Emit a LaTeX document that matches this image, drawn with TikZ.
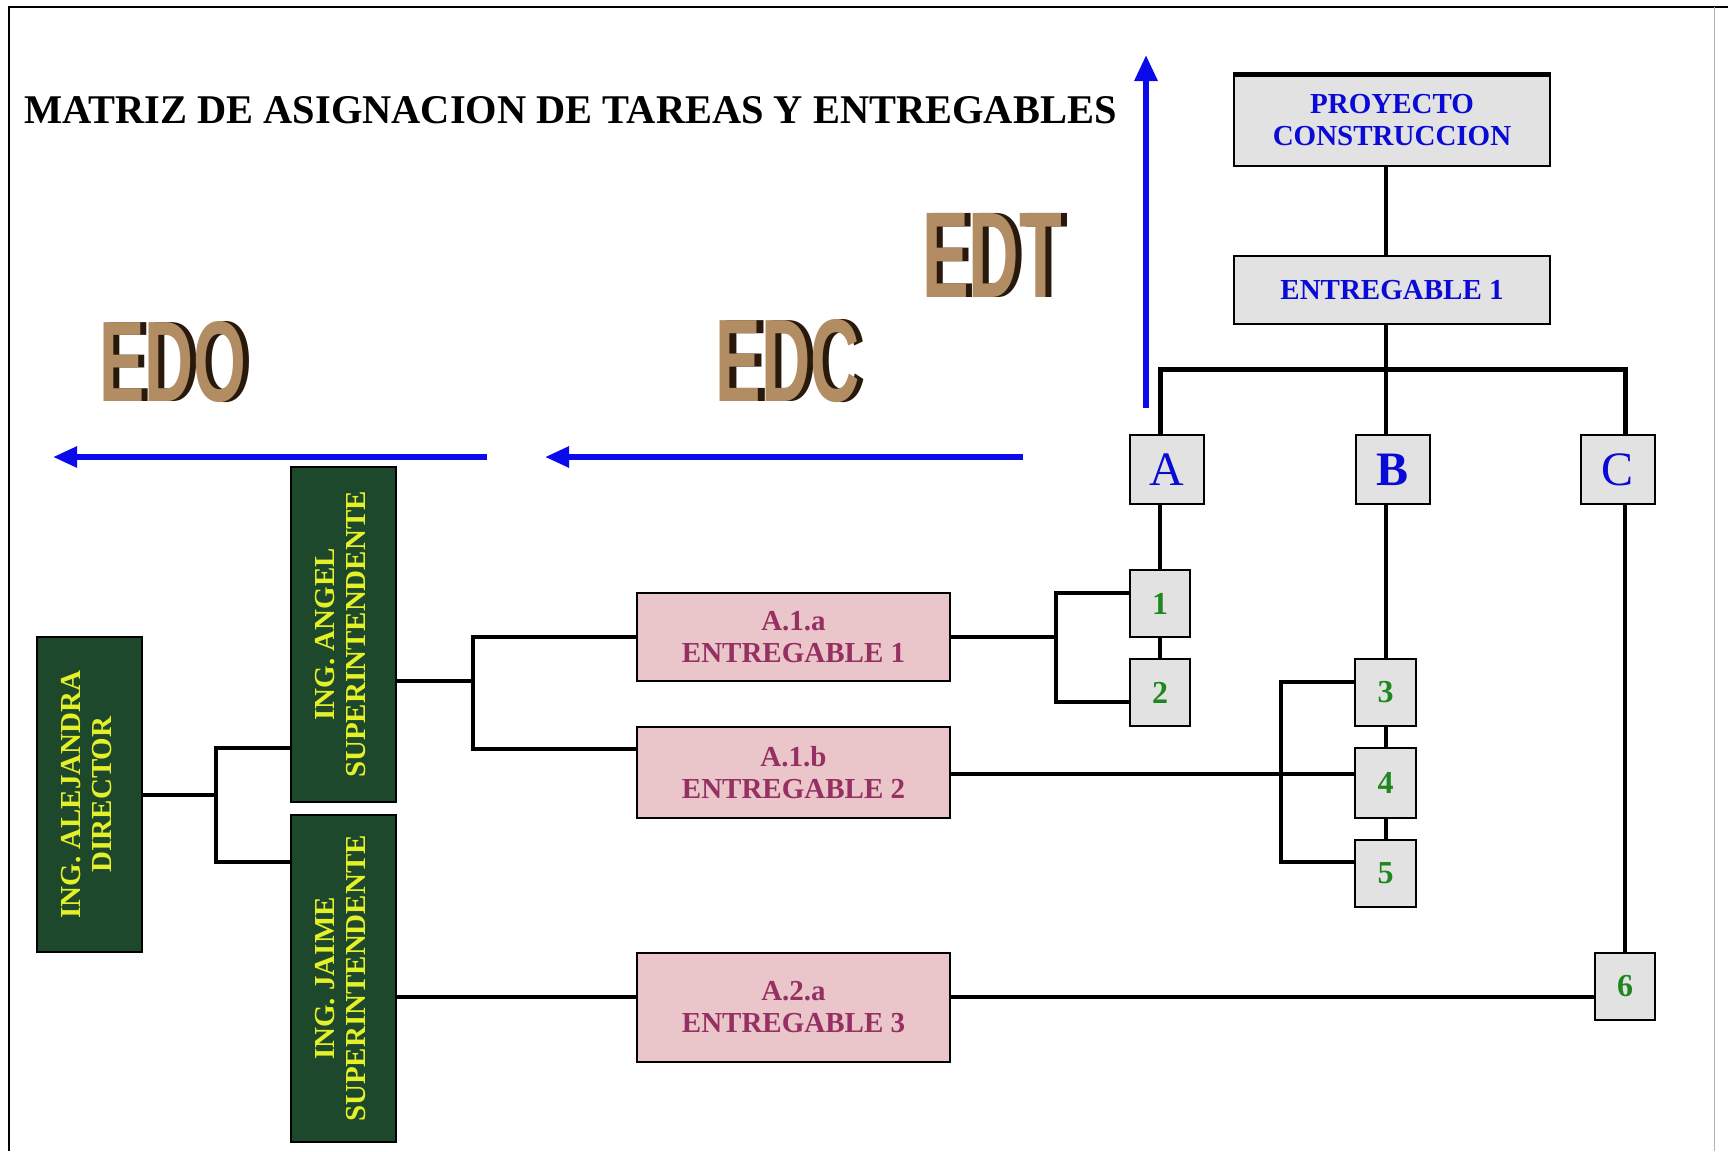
\documentclass[tikz,border=0pt]{standalone}
\usepackage{fontspec}
\usepackage{graphicx}
\setmainfont{Liberation Serif}
\newfontfamily\wafont{Liberation Sans}
\usetikzlibrary{arrows.meta}
\definecolor{marble}{RGB}{226,226,226}
\definecolor{txtblue}{RGB}{10,10,215}
\definecolor{numgreen}{RGB}{30,135,30}
\definecolor{dkgreen}{RGB}{30,72,44}
\definecolor{yeltxt}{RGB}{228,240,40}
\definecolor{pinkfill}{RGB}{234,198,202}
\definecolor{pinktxt}{RGB}{150,48,98}
\definecolor{arrblue}{RGB}{10,10,235}
\definecolor{wood}{RGB}{178,140,98}
\definecolor{woodshadow}{RGB}{40,25,12}
\newcommand\wart[3]{\makebox[0pt][l]{\hspace{6pt}\textcolor{woodshadow}{\resizebox{#2}{#3}{\wafont\bfseries #1}}}\textcolor{wood}{\resizebox{#2}{#3}{\wafont\bfseries #1}}\hspace{6pt}}
\begin{document}
\begin{tikzpicture}[x=1pt,y=-1pt,
  marblebox/.style={draw=black, line width=2pt, fill=marble, inner sep=0pt, text=txtblue, align=center, font=\bfseries\fontsize{29}{32}\selectfont},
  letterbox/.style={marblebox, minimum width=74pt, minimum height=69pt, font=\fontsize{48}{50}\selectfont},
  numbox/.style={marblebox, minimum width=60pt, minimum height=67pt, text=numgreen, font=\bfseries\fontsize{32}{34}\selectfont},
  greenbox/.style={draw=black, line width=1.5pt, fill=dkgreen, inner sep=0pt, text=yeltxt, minimum width=105pt, font=\bfseries\fontsize{29}{31}\selectfont},
  pinkbox/.style={draw=black, line width=2pt, fill=pinkfill, inner sep=0pt, text=pinktxt, align=center, minimum width=313pt, font=\bfseries\fontsize{29}{32}\selectfont},
  conn/.style={line width=4pt, black},
  bluearrow/.style={line width=5.5pt, arrblue, -{Triangle[length=24pt,width=20pt]}},
  wordart/.style={inner sep=0pt}
]
\useasboundingbox (0,0) rectangle (1728,1151);
\fill[white] (0,0) rectangle (1728,1151);
% frame
\draw[line width=1.5pt] (9,1151) -- (9,7) -- (1728,7);
\draw[line width=1pt, black!30] (1714,7) -- (1714,1151);

% title
\node[anchor=west, inner sep=0pt] (title) at (24,110) {\resizebox{1092pt}{27pt}{\bfseries MATRIZ DE ASIGNACION DE TAREAS Y ENTREGABLES}};

% word art labels
\node[wordart] (edo) at (173,362) {\wart{EDO}{147pt}{80pt}};
\node[wordart] (edc) at (788,361) {\wart{EDC}{144pt}{82pt}};
\node[wordart] (edt) at (992,255) {\wart{EDT}{140pt}{84pt}};

% blue arrows
\coordinate (up0) at (1146,408);
\coordinate (up1) at (1146,55);
\draw[line width=6pt, arrblue, -{Triangle[length=26pt,width=22pt]}] (up0) -- (up1);
\coordinate (l1s) at (1023,457);
\coordinate (l1e) at (545,457);
\coordinate (l2s) at (487,457);
\coordinate (l2e) at (53,457);
\draw[bluearrow] (l1s) -- (l1e);
\draw[bluearrow] (l2s) -- (l2e);

% EDT tree
\node[marblebox, minimum width=316pt, minimum height=91pt] (proj) at (1392,120.5) {PROYECTO\\CONSTRUCCION};
\draw[line width=5pt] (proj.north west) -- (proj.north east);
\node[marblebox, minimum width=316pt, minimum height=68pt] (ent1) at (1392,290) {ENTREGABLE 1};
\node[letterbox] (A) at (1167,469.5) {A};
\node[letterbox, font=\bfseries\fontsize{48}{50}\selectfont] (B) at (1392.5,469.5) {B};
\node[letterbox] (C) at (1617.5,469.5) {C};
\node[numbox] (n1) at (1160,603.5) {1};
\node[numbox] (n2) at (1160,692.5) {2};
\node[numbox, minimum width=61pt] (n3) at (1385.5,692.5) {3};
\node[numbox, minimum width=61pt, minimum height=70pt] (n4) at (1385.5,783) {4};
\node[numbox, minimum width=61pt] (n5) at (1385.5,873.5) {5};
\node[numbox] (n6) at (1625,986) {6};

\coordinate (bus) at (1385,369);
\draw[conn] (proj.south -| n3) -- (ent1.north -| n3);
\draw[conn] (ent1.south -| n3) -- (B.north -| n3);
\draw[line width=5pt] (A.north -| n1) |- (bus) -| (C.north -| n6);
\draw[conn] (A.south -| n1) -- (n1.north);
\draw[conn] (n1.south) -- (n2.north);
\draw[conn] (B.south -| n3) -- (n3.north);
\draw[conn] (n3.south) -- (n4.north);
\draw[conn] (n4.south) -- (n5.north);
\draw[conn] (C.south -| n6) -- (n6.north);

% EDO boxes
\node[greenbox, minimum height=315pt] (dir) at (89.5,794.5) {\rotatebox{90}{\begin{tabular}{@{}c@{}}ING. ALEJANDRA\\DIRECTOR\end{tabular}}};
\node[greenbox, minimum height=335pt] (angel) at (343.5,634.5) {\rotatebox{90}{\begin{tabular}{@{}c@{}}ING. ANGEL\\SUPERINTENDENTE\end{tabular}}};
\node[greenbox, minimum height=327pt] (jaime) at (343.5,978.5) {\rotatebox{90}{\begin{tabular}{@{}c@{}}ING. JAIME\\SUPERINTENDENTE\end{tabular}}};

% EDC boxes
\node[pinkbox, minimum height=88pt] (a1a) at (793.5,637) {A.1.a\\ENTREGABLE 1};
\node[pinkbox, minimum height=91pt] (a1b) at (793.5,772.5) {A.1.b\\ENTREGABLE 2};
\node[pinkbox, minimum height=109pt] (a2a) at (793.5,1007.5) {A.2.a\\ENTREGABLE 3};

% connectors
\coordinate (dj) at (216,795);
\coordinate (yang) at (0,748);
\coordinate (yjai) at (0,862);
\draw[conn] (dir.east |- dj) -- (dj);
\draw[conn] (angel.west |- yang) -| (dj) |- (jaime.west |- yjai);

\coordinate (aj) at (473,681);
\coordinate (y1b) at (0,749);
\draw[conn] (angel.east |- aj) -- (aj);
\draw[conn] (a1a.west) -| (aj) |- (a1b.west |- y1b);

\coordinate (b12) at (1056,637);
\coordinate (y1) at (0,593);
\coordinate (y2) at (0,702);
\draw[conn] (a1a.east) -- (b12);
\draw[conn] (n1.west |- y1) -| (b12) |- (n2.west |- y2);

\coordinate (y4) at (0,774);
\coordinate (b35) at (1281,774);
\coordinate (y3) at (0,682);
\coordinate (y5) at (0,862);
\draw[conn] (a1b.east |- y4) -- (n4.west |- y4);
\draw[conn] (n3.west |- y3) -| (b35) |- (n5.west |- y5);

\coordinate (y6) at (0,997);
\draw[conn] (jaime.east |- y6) -- (a2a.west |- y6);
\draw[conn] (a2a.east |- y6) -- (n6.west |- y6);
\end{tikzpicture}
\end{document}
